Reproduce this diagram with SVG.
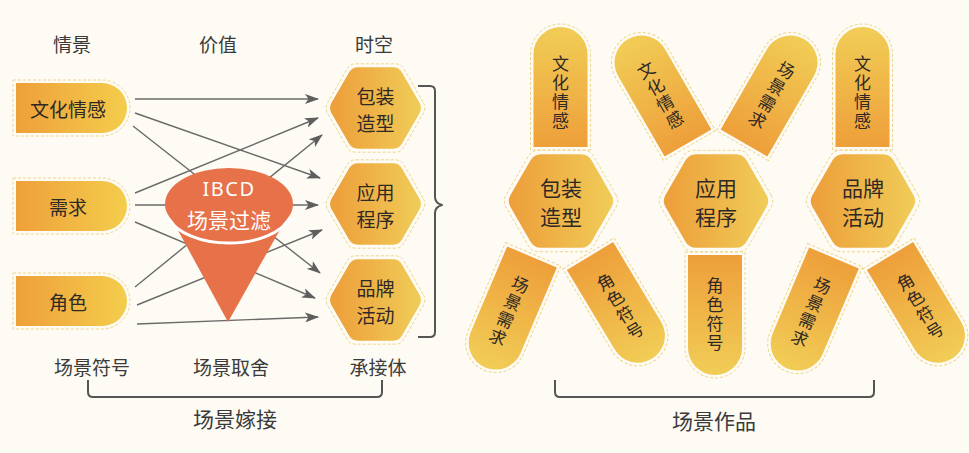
<svg xmlns="http://www.w3.org/2000/svg" width="969" height="453" viewBox="0 0 969 453">
<style>
text{font-family:"Noto Sans CJK SC","Noto Sans",sans-serif;text-anchor:middle;dominant-baseline:central;fill:#333}
.hd{font-size:19px;fill:#3a3a3a}
.nt{font-size:19px;fill:#2e2925}
.ht{font-size:21px;fill:#2e2925}
.pt{font-size:17px;fill:#2e2925}
.big{font-size:21px;fill:#3a3a3a}
.dash{fill:none;stroke:#efd58c;stroke-width:1;stroke-dasharray:3 2}
.ln{stroke:#6a6a6a;stroke-width:1.4;fill:none;marker-end:url(#ah)}
.br{fill:none;stroke:#555;stroke-width:2;stroke-linejoin:round}
</style>
<defs>
<linearGradient id="gH" x1="0" y1="0" x2="1" y2="0"><stop offset="0" stop-color="#eea03a"/><stop offset="1" stop-color="#f4cd4c"/></linearGradient>
<linearGradient id="gX" x1="0" y1="0" x2="1" y2="0"><stop offset="0" stop-color="#ed9e3a"/><stop offset="1" stop-color="#f0cc58"/></linearGradient>
<linearGradient id="gP" x1="0" y1="0" x2="0" y2="1"><stop offset="0" stop-color="#ee9f3a"/><stop offset="1" stop-color="#f1cd56"/></linearGradient>
<marker id="ah" viewBox="0 0 14 10" refX="13" refY="5" markerWidth="14" markerHeight="10" markerUnits="userSpaceOnUse" orient="auto">
<path d="M0,0 L14,5 L0,10 L3.5,5 Z" fill="#5e5e5e"/>
</marker>
<path id="pill" d="M0,0 H86 A25,25 0 0 1 86,50 H0 Z"/>
<path id="pillO" d="M-3,-3 H86 A28,28 0 0 1 86,53 H-3 Z"/>
<path id="petal" d="M-27,0 H27 V93 A27,27 0 0 1 -27,93 Z"/>
<path id="petalO" d="M-30,-3 H30 V93 A30,30 0 0 1 -30,93 Z"/>
<path id="hexS" d="M44,-5.2 Q47,0 44,5.2 L26.5,35.5 Q23.5,40.7 17.5,40.7 L-17.5,40.7 Q-23.5,40.7 -26.5,35.5 L-44,5.2 Q-47,0 -44,-5.2 L-26.5,-35.5 Q-23.5,-40.7 -17.5,-40.7 L17.5,-40.7 Q23.5,-40.7 26.5,-35.5 Z"/>
<path id="hexSO" d="M48,-5.2 Q51,0 48,5.2 L28.5,39 Q25.5,44.2 19.5,44.2 L-19.5,44.2 Q-25.5,44.2 -28.5,39 L-48,5.2 Q-51,0 -48,-5.2 L-28.5,-39 Q-25.5,-44.2 -19.5,-44.2 L19.5,-44.2 Q25.5,-44.2 28.5,-39 Z"/>
<path id="hexB" d="M50.5,-6.06 Q54,0 50.5,6.06 L30.5,40.7 Q27,46.8 20,46.8 L-20,46.8 Q-27,46.8 -30.5,40.7 L-50.5,6.06 Q-54,0 -50.5,-6.06 L-30.5,-40.7 Q-27,-46.8 -20,-46.8 L20,-46.8 Q27,-46.8 30.5,-40.7 Z"/>
<path id="hexBO" d="M55,-6.06 Q58.5,0 55,6.06 L32.75,44.6 Q29.25,50.7 22.25,50.7 L-22.25,50.7 Q-29.25,50.7 -32.75,44.6 L-55,6.06 Q-58.5,0 -55,-6.06 L-32.75,-44.6 Q-29.25,-50.7 -22.25,-50.7 L22.25,-50.7 Q29.25,-50.7 32.75,-44.6 Z"/>
</defs>
<rect width="969" height="453" fill="#fdfbf3"/>

<g id="headers">
<text class="hd" x="72" y="43">情景</text>
<text class="hd" x="218" y="43">价值</text>
<text class="hd" x="374" y="43">时空</text>
</g>

<g id="connectors">
<line class="ln" x1="135" y1="99" x2="318" y2="99"/>
<line class="ln" x1="135" y1="113" x2="320" y2="178"/>
<line class="ln" x1="133" y1="126" x2="320" y2="273"/>
<line class="ln" x1="135" y1="193" x2="318" y2="118"/>
<line class="ln" x1="135" y1="205" x2="318" y2="205"/>
<line class="ln" x1="135" y1="222" x2="315" y2="298"/>
<line class="ln" x1="135" y1="287" x2="322" y2="135"/>
<line class="ln" x1="137" y1="305" x2="322" y2="230"/>
<line class="ln" x1="137" y1="324" x2="318" y2="317"/>
</g>

<g id="funnel">
<path d="M168,212 L228,322 L290,212 Z" fill="#e77149"/>
<ellipse cx="229" cy="204" rx="64" ry="36" fill="#e77149"/>
<path d="M168,218 A64,36 0 0 0 290,218" fill="none" stroke="#ffffff" stroke-width="3"/>
<text x="229" y="188" style="font-family:'Noto Sans','Noto Sans CJK SC',sans-serif;font-size:20px;fill:#fff;letter-spacing:1.5px">IBCD</text>
<text x="229" y="219" style="font-size:21px;fill:#fff">场景过滤</text>
</g>

<g id="node-left-wenhua">
<use href="#pillO" class="dash" transform="translate(16,83)"/>
<use href="#pill" fill="url(#gH)" transform="translate(16,83)"/>
<text class="nt" x="68" y="108">文化情感</text>
</g>
<g id="node-left-xuqiu">
<use href="#pillO" class="dash" transform="translate(16,181)"/>
<use href="#pill" fill="url(#gH)" transform="translate(16,181)"/>
<text class="nt" x="68" y="206">需求</text>
</g>
<g id="node-left-juese">
<use href="#pillO" class="dash" transform="translate(16,276)"/>
<use href="#pill" fill="url(#gH)" transform="translate(16,276)"/>
<text class="nt" x="68" y="301">角色</text>
</g>

<g id="node-left-baozhuang">
<use href="#hexSO" class="dash" transform="translate(375.5,108)"/>
<use href="#hexS" fill="url(#gX)" transform="translate(375.5,108)"/>
<text class="nt" x="375.5" y="95">包装</text>
<text class="nt" x="375.5" y="122">造型</text>
</g>
<g id="node-left-yingyong">
<use href="#hexSO" class="dash" transform="translate(375.5,204)"/>
<use href="#hexS" fill="url(#gX)" transform="translate(375.5,204)"/>
<text class="nt" x="375.5" y="191">应用</text>
<text class="nt" x="375.5" y="218">程序</text>
</g>
<g id="node-left-pinpai">
<use href="#hexSO" class="dash" transform="translate(375.5,300)"/>
<use href="#hexS" fill="url(#gX)" transform="translate(375.5,300)"/>
<text class="nt" x="375.5" y="287">品牌</text>
<text class="nt" x="375.5" y="314">活动</text>
</g>

<g id="brackets">
<path class="br" d="M418,86 H430 Q435,86 435,91 V197 Q435,203 442,205 Q435,207 435,213 V332 Q435,337 430,337 H418"/>
<path class="br" d="M88,380 V392 Q88,397 93,397 H377 Q382,397 382,392 V380"/>
<path class="br" d="M555,380 V392 Q555,397 560,397 H869 Q874,397 874,392 V380"/>
</g>

<g id="bottom-labels">
<text class="hd" x="92" y="366">场景符号</text>
<text class="hd" x="231" y="366">场景取舍</text>
<text class="hd" x="378" y="366">承接体</text>
<text class="big" x="235" y="418">场景嫁接</text>
<text class="big" x="714" y="420">场景作品</text>
</g>

<g id="node-r1">
<use href="#hexBO" class="dash" transform="translate(561,201)"/>
<use href="#hexB" fill="url(#gX)" transform="translate(561,201)"/>
<text class="ht" x="561" y="187">包装</text>
<text class="ht" x="561" y="216">造型</text>
</g>
<g id="node-r1-top">
<use href="#petalO" class="dash" transform="translate(560.5,147) rotate(180)"/>
<use href="#petal" fill="url(#gP)" transform="translate(560.5,147) rotate(180)"/>
<text class="pt" transform="translate(560.5,90)"><tspan x="0" y="-28.5">文</tspan><tspan x="0" y="-9.5">化</tspan><tspan x="0" y="9.5">情</tspan><tspan x="0" y="28.5">感</tspan></text>
</g>
<g id="node-r1-bl">
<use href="#petalO" class="dash" transform="translate(532,257) rotate(23)"/>
<use href="#petal" fill="url(#gP)" transform="translate(532,257) rotate(23)"/>
<text class="pt" transform="translate(509.7,309.5) rotate(23)"><tspan x="0" y="-28.5">场</tspan><tspan x="0" y="-9.5">景</tspan><tspan x="0" y="9.5">需</tspan><tspan x="0" y="28.5">求</tspan></text>
</g>
<g id="node-r1-br">
<use href="#petalO" class="dash" transform="translate(590,256) rotate(-31)"/>
<use href="#petal" fill="url(#gP)" transform="translate(590,256) rotate(-31)"/>
<text class="pt" transform="translate(619.4,304.9) rotate(-31)"><tspan x="0" y="-28.5">角</tspan><tspan x="0" y="-9.5">色</tspan><tspan x="0" y="9.5">符</tspan><tspan x="0" y="28.5">号</tspan></text>
</g>

<g id="node-r2">
<use href="#hexBO" class="dash" transform="translate(716,201)"/>
<use href="#hexB" fill="url(#gX)" transform="translate(716,201)"/>
<text class="ht" x="716" y="187">应用</text>
<text class="ht" x="716" y="216">程序</text>
</g>
<g id="node-r2-tl">
<use href="#petalO" class="dash" transform="translate(688,143) rotate(150)"/>
<use href="#petal" fill="url(#gP)" transform="translate(688,143) rotate(150)"/>
<text class="pt" transform="translate(659.5,93.6) rotate(-30)"><tspan x="0" y="-28.5">文</tspan><tspan x="0" y="-9.5">化</tspan><tspan x="0" y="9.5">情</tspan><tspan x="0" y="28.5">感</tspan></text>
</g>
<g id="node-r2-tr">
<use href="#petalO" class="dash" transform="translate(744,143) rotate(210)"/>
<use href="#petal" fill="url(#gP)" transform="translate(744,143) rotate(210)"/>
<text class="pt" transform="translate(772.5,93.6) rotate(30)"><tspan x="0" y="-28.5">场</tspan><tspan x="0" y="-9.5">景</tspan><tspan x="0" y="9.5">需</tspan><tspan x="0" y="28.5">求</tspan></text>
</g>
<g id="node-r2-b">
<use href="#petalO" class="dash" transform="translate(715,255)"/>
<use href="#petal" fill="url(#gP)" transform="translate(715,255)"/>
<text class="pt" transform="translate(715,312)"><tspan x="0" y="-28.5">角</tspan><tspan x="0" y="-9.5">色</tspan><tspan x="0" y="9.5">符</tspan><tspan x="0" y="28.5">号</tspan></text>
</g>

<g id="node-r3">
<use href="#hexBO" class="dash" transform="translate(863,201)"/>
<use href="#hexB" fill="url(#gX)" transform="translate(863,201)"/>
<text class="ht" x="863" y="187">品牌</text>
<text class="ht" x="863" y="216">活动</text>
</g>
<g id="node-r3-top">
<use href="#petalO" class="dash" transform="translate(862.5,147) rotate(180)"/>
<use href="#petal" fill="url(#gP)" transform="translate(862.5,147) rotate(180)"/>
<text class="pt" transform="translate(862.5,90)"><tspan x="0" y="-28.5">文</tspan><tspan x="0" y="-9.5">化</tspan><tspan x="0" y="9.5">情</tspan><tspan x="0" y="28.5">感</tspan></text>
</g>
<g id="node-r3-bl">
<use href="#petalO" class="dash" transform="translate(834,258) rotate(23)"/>
<use href="#petal" fill="url(#gP)" transform="translate(834,258) rotate(23)"/>
<text class="pt" transform="translate(811.7,310.5) rotate(23)"><tspan x="0" y="-28.5">场</tspan><tspan x="0" y="-9.5">景</tspan><tspan x="0" y="9.5">需</tspan><tspan x="0" y="28.5">求</tspan></text>
</g>
<g id="node-r3-br">
<use href="#petalO" class="dash" transform="translate(890,256) rotate(-31)"/>
<use href="#petal" fill="url(#gP)" transform="translate(890,256) rotate(-31)"/>
<text class="pt" transform="translate(919.4,304.9) rotate(-31)"><tspan x="0" y="-28.5">角</tspan><tspan x="0" y="-9.5">色</tspan><tspan x="0" y="9.5">符</tspan><tspan x="0" y="28.5">号</tspan></text>
</g>
</svg>
